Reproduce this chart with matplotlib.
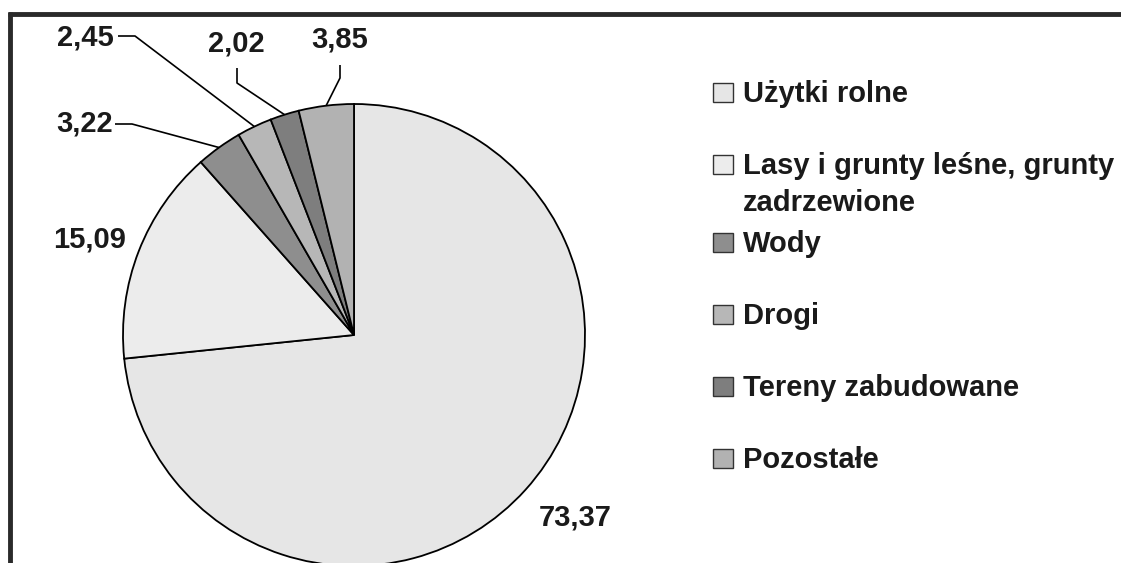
import matplotlib.pyplot as plt
from matplotlib.patches import Rectangle
import numpy as np

W, H = 1121, 563

categories = [
    "Użytki rolne",
    "Lasy i grunty leśne, grunty\nzadrzewione",
    "Wody",
    "Drogi",
    "Tereny zabudowane",
    "Pozostałe",
]
values = [73.37, 15.09, 3.22, 2.45, 2.02, 3.85]
value_labels = ["73,37", "15,09", "3,22", "2,45", "2,02", "3,85"]
colors = ["#e6e6e6", "#ececec", "#8e8e8e", "#b7b7b7", "#7e7e7e", "#b2b2b2"]

plt.rcParams["font.family"] = ["Liberation Sans", "DejaVu Sans"]
plt.rcParams["font.weight"] = "bold"


def px(x, y):
    # pixel coords (y from top) -> data coords (y up)
    return x, H - y


fig = plt.figure(figsize=(W / 100, H / 100), dpi=100)
ax = fig.add_axes([0, 0, 1, 1])

cx, cy = px(354, 335)
radius = 231
ax.pie(values, colors=colors, startangle=90, counterclock=False,
       center=(cx, cy), radius=radius,
       wedgeprops=dict(edgecolor="black", linewidth=1.3))
ax.set_xlim(0, W)
ax.set_ylim(0, H)
ax.set_aspect("equal")
ax.axis("off")

# value labels: (text position, elbow points) in pixels, None = no leader
label_layout = [
    ((575, 517), None),
    ((90, 239), None),
    ((85, 124), [(115, 124), (132, 124)]),
    ((85, 37), [(118, 36), (135, 36)]),
    ((236, 43), [(237, 68), (237, 83)]),
    ((340, 39), [(340, 65), (340, 78)]),
]

cum = np.cumsum([0] + values[:-1])
total = sum(values)
for i, (lab, (pos, elbow)) in enumerate(zip(value_labels, label_layout)):
    ax.text(*px(*pos), lab, ha="center", va="center", fontsize=21,
            fontweight="bold", color="#1a1a1a")
    if elbow is not None:
        mid = (cum[i] + values[i] / 2) / total
        theta = np.deg2rad(90 - 360 * mid)
        ex = cx + radius * np.cos(theta)
        ey = cy + radius * np.sin(theta)
        pts = [px(*p) for p in elbow] + [(ex, ey)]
        ax.plot([p[0] for p in pts], [p[1] for p in pts], color="black",
                lw=1.2, solid_capstyle="butt")

# legend
y = 92
for lab, col in zip(categories, colors):
    ax.add_patch(Rectangle(px(713, y + 10), 20, 19, facecolor=col,
                           edgecolor="#333333", lw=1.0))
    ax.text(*px(743, y - 12), lab, ha="left", va="top", fontsize=21,
            fontweight="bold", color="#1a1a1a", linespacing=1.4)
    y += 72 + 6 * lab.count("\n")

# frame
ax.plot([8, W], [H - 14, H - 14], color="#2a2a2a", lw=3.5, solid_capstyle="butt")
ax.plot([10, 10], [0, H - 12], color="#2a2a2a", lw=3.5, solid_capstyle="butt")

fig.savefig("out.png", dpi=100)
